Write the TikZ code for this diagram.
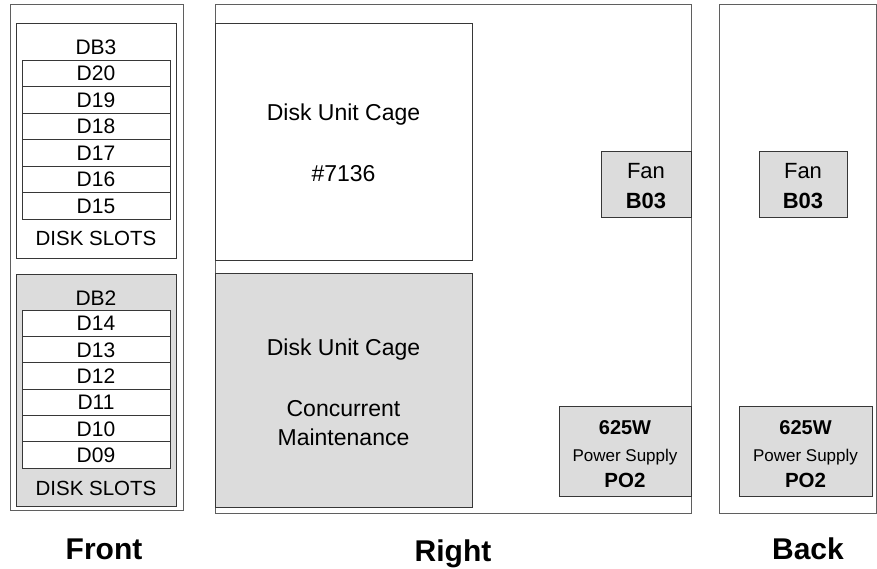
\documentclass[tikz,border=0pt]{standalone}
\usepackage{fontspec}
\setmainfont{Liberation Sans}
\definecolor{fillgray}{RGB}{220,220,220}
\definecolor{linegray}{RGB}{55,55,55}
\definecolor{outergray}{RGB}{95,95,95}
\begin{document}
\begin{tikzpicture}[x=1pt,y=-1pt,
  panel/.style={draw=outergray, line width=1pt},
  box/.style={draw=linegray, line width=1pt},
  gbox/.style={box, fill=fillgray},
  slot/.style={draw=linegray, line width=0.8pt, fill=white},
  lbl/.style={inner sep=0pt, anchor=base, yshift={-0.358*#1 pt}, align=center, font=\fontsize{#1}{#1}\selectfont},
  blbl/.style={lbl=#1, font=\fontsize{#1}{#1}\selectfont\bfseries}]
\useasboundingbox (0,0) rectangle (877,569);
% ---------- Front ----------
\draw[panel] (10,5) rectangle (183,510);
\draw[box] (16,24) rectangle (176,258);
\node[lbl=21] (db3) at (96,47) {DB3};
\foreach \t [count=\i from 0] in {D20,D19,D18,D17,D16,D15}{
  \draw[slot] (22,{60+26.5*\i}) rectangle (170,{60+26.5*(\i+1)});
  \node[lbl=21] (s\t) at (96,{60+26.5*\i+13.25}) {\t};
}
\node[lbl=20.5] (ds3) at (96,238) {DISK SLOTS};
\draw[gbox] (16,274) rectangle (176,506);
\node[lbl=21] (db2) at (96,298) {DB2};
\foreach \t [count=\i from 0] in {D14,D13,D12,D11,D10,D09}{
  \draw[slot] (22,{310+26.33*\i}) rectangle (170,{310+26.33*(\i+1)});
  \node[lbl=21] (s\t) at (96,{310+26.33*\i+13.17}) {\t};
}
\node[lbl=20.5] (ds2) at (96,488) {DISK SLOTS};
% ---------- Right ----------
\draw[panel] (215,5) rectangle (691,513);
\draw[box] (215,24) rectangle (472,260);
\node[lbl=23] (c1a) at (343.5,112) {Disk Unit Cage};
\node[lbl=23] (c1b) at (343.5,173) {\#7136};
\draw[gbox] (215,273) rectangle (472,507);
\node[lbl=23] (c2a) at (343.5,347) {Disk Unit Cage};
\node[lbl=23] (c2b) at (343.5,408) {Concurrent};
\node[lbl=23] (c2c) at (343.5,437) {Maintenance};
\draw[gbox] (601,152) rectangle (691,218);
\node[lbl=22] (rfan) at (646,171) {Fan};
\node[blbl=22] (rfanb) at (646,201) {B03};
\draw[gbox] (559,406) rectangle (691,496);
\node[blbl=20] (rps1) at (625,427) {625W};
\node[lbl=17] (rps2) at (625,455) {Power Supply};
\node[blbl=20.5] (rps3) at (625,480) {PO2};
% ---------- Back ----------
\draw[panel] (719,5) rectangle (876,513);
\draw[gbox] (759,152) rectangle (847,218);
\node[lbl=22] (bfan) at (803,171) {Fan};
\node[blbl=22] (bfanb) at (803,201) {B03};
\draw[gbox] (739,406) rectangle (872,496);
\node[blbl=20] (bps1) at (805.5,427) {625W};
\node[lbl=17] (bps2) at (805.5,455) {Power Supply};
\node[blbl=20.5] (bps3) at (805.5,480) {PO2};
% ---------- captions ----------
\node[blbl=30] (front) at (104,549) {Front};
\node[blbl=30] (right) at (453,551) {Right};
\node[blbl=30] (back) at (808,549) {Back};
\end{tikzpicture}
\end{document}
